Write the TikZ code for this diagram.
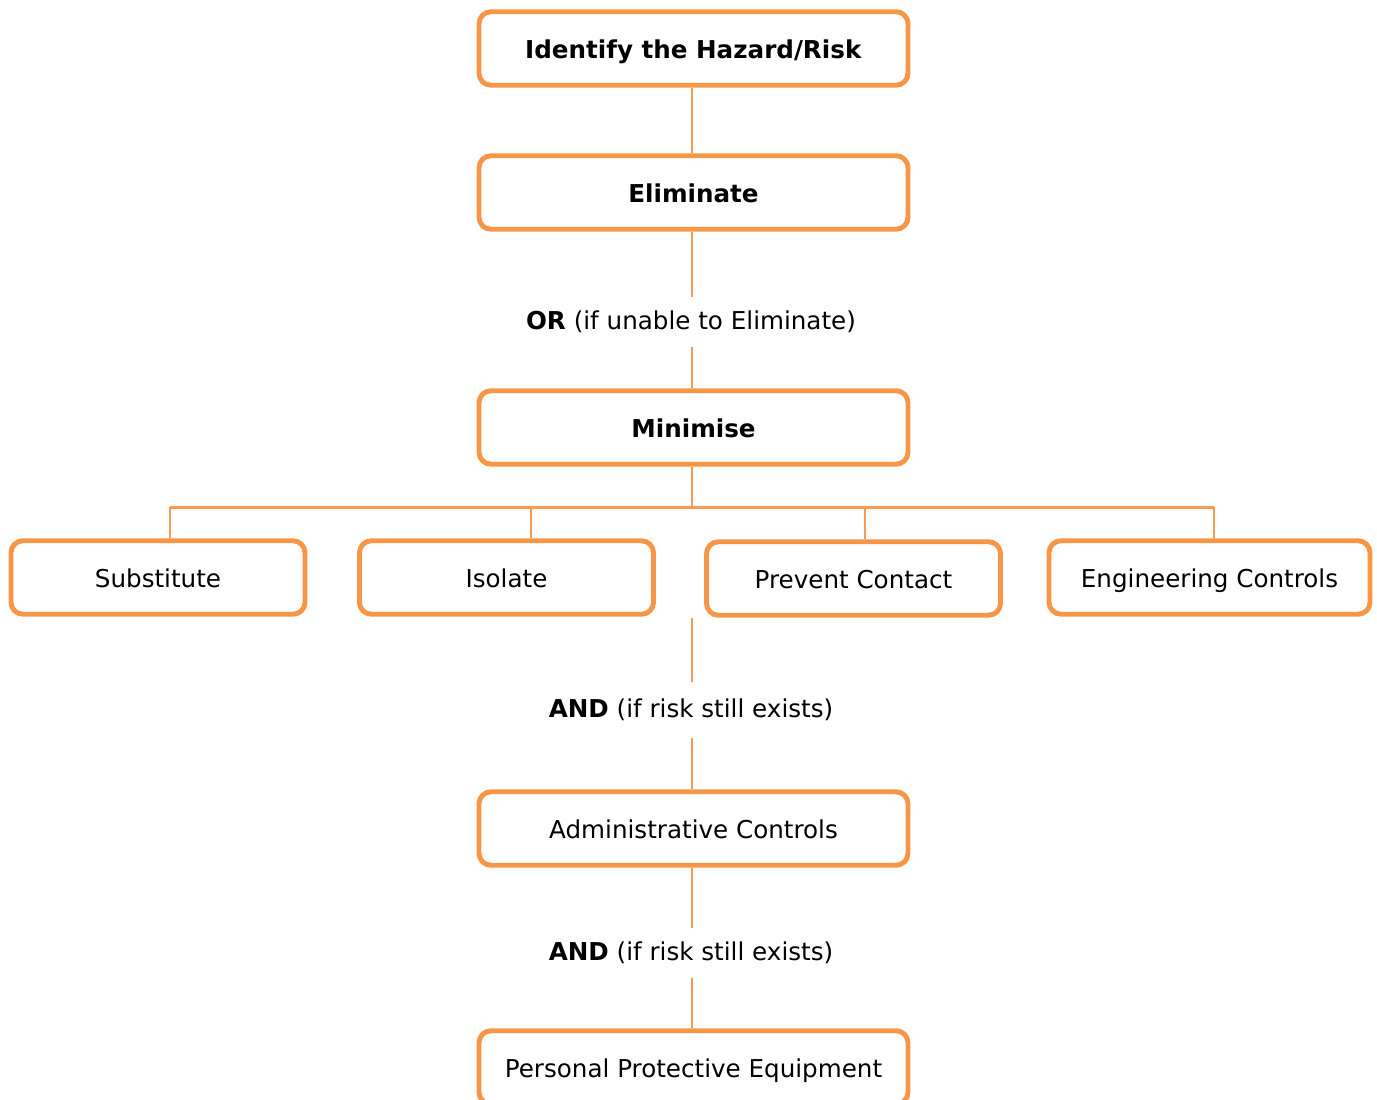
\documentclass[tikz,border=0pt]{standalone}
\usepackage{fontspec}
\setmainfont{DejaVu Sans}
\usepackage{tikz}
\usetikzlibrary{positioning}
\definecolor{boxorange}{RGB}{247,150,70}
\definecolor{lineorange}{RGB}{247,155,80}

\tikzset{
  stepbox/.style = {draw=boxorange, line width=2.8pt, rounded corners=0.24cm,
                    fill=white, minimum width=8.58cm, minimum height=1.47cm,
                    text height=2.3ex, text depth=0.2ex,
                    font=\fontsize{14}{16}\selectfont},
  smallbox/.style = {stepbox, minimum width=5.88cm},
  joinlabel/.style = {minimum height=1cm, inner sep=0pt,
                      font=\fontsize{14}{16}\selectfont},
  link/.style = {draw=lineorange, line width=1.3pt}
}

\begin{document}
\begin{tikzpicture}
% hierarchy of control, from the hazard down to PPE
\useasboundingbox (0,0) rectangle (27.54,22);

% top part
\node[stepbox] (hazard) at (13.87,21.03) {\textbf{Identify the Hazard/Risk}};
\node[stepbox] (elim)   at (13.87,18.15) {\textbf{Eliminate}};
\node[joinlabel] (orlabel) at (13.82,15.56) {\textbf{OR} (if unable to Eliminate)};
\node[stepbox] (minim)  at (13.87,13.45) {\textbf{Minimise}};

% minimise options
\node[smallbox] (subst)   at (3.16,10.45)  {Substitute};
\node[smallbox] (isol)    at (10.13,10.45) {Isolate};
\node[smallbox] (prevent) at (17.07,10.43) {Prevent Contact};
\node[smallbox, minimum width=6.42cm] (eng) at (24.19,10.45) {Engineering Controls};

% bottom part
\coordinate (row) at (13.84,9.64);
\node[joinlabel, minimum height=1.1cm] (and1) at (13.82,7.80) {\textbf{AND} (if risk still exists)};
\node[stepbox] (admin) at (13.87,5.43) {Administrative Controls};
\node[joinlabel] (and2) at (13.82,2.94) {\textbf{AND} (if risk still exists)};
\node[stepbox] (ppe)   at (13.87,0.65) {Personal Protective Equipment};

% connectors
\coordinate (busL) at (3.40,11.85);
\coordinate (busR) at (24.28,11.85);
\draw[link] (hazard.south -| 13.84,0) -- (elim.north -| 13.84,0);
\draw[link] (elim.south -| 13.84,0) -- (orlabel.north -| 13.84,0);
\draw[link] (orlabel.south -| 13.84,0) -- (minim.north -| 13.84,0);
\draw[link] (minim.south -| 13.84,0) -- (busL -| 13.84,0);
\draw[link] (busL) -- (busR);
\draw[link] ([xshift=0.24cm]subst.north) -- ([xshift=0.24cm]subst.north |- busL);
\draw[link] ([xshift=0.49cm]isol.north) -- ([xshift=0.49cm]isol.north |- busL);
\draw[link] ([xshift=0.23cm]prevent.north) -- ([xshift=0.23cm]prevent.north |- busL);
\draw[link] (eng.north -| busR) -- (busR);
\draw[link] (row) -- (and1.north -| row);
\draw[link] (and1.south -| row) -- (admin.north -| row);
\draw[link] (admin.south -| row) -- (and2.north -| row);
\draw[link] (and2.south -| row) -- (ppe.north -| row);

\end{tikzpicture}
\end{document}
